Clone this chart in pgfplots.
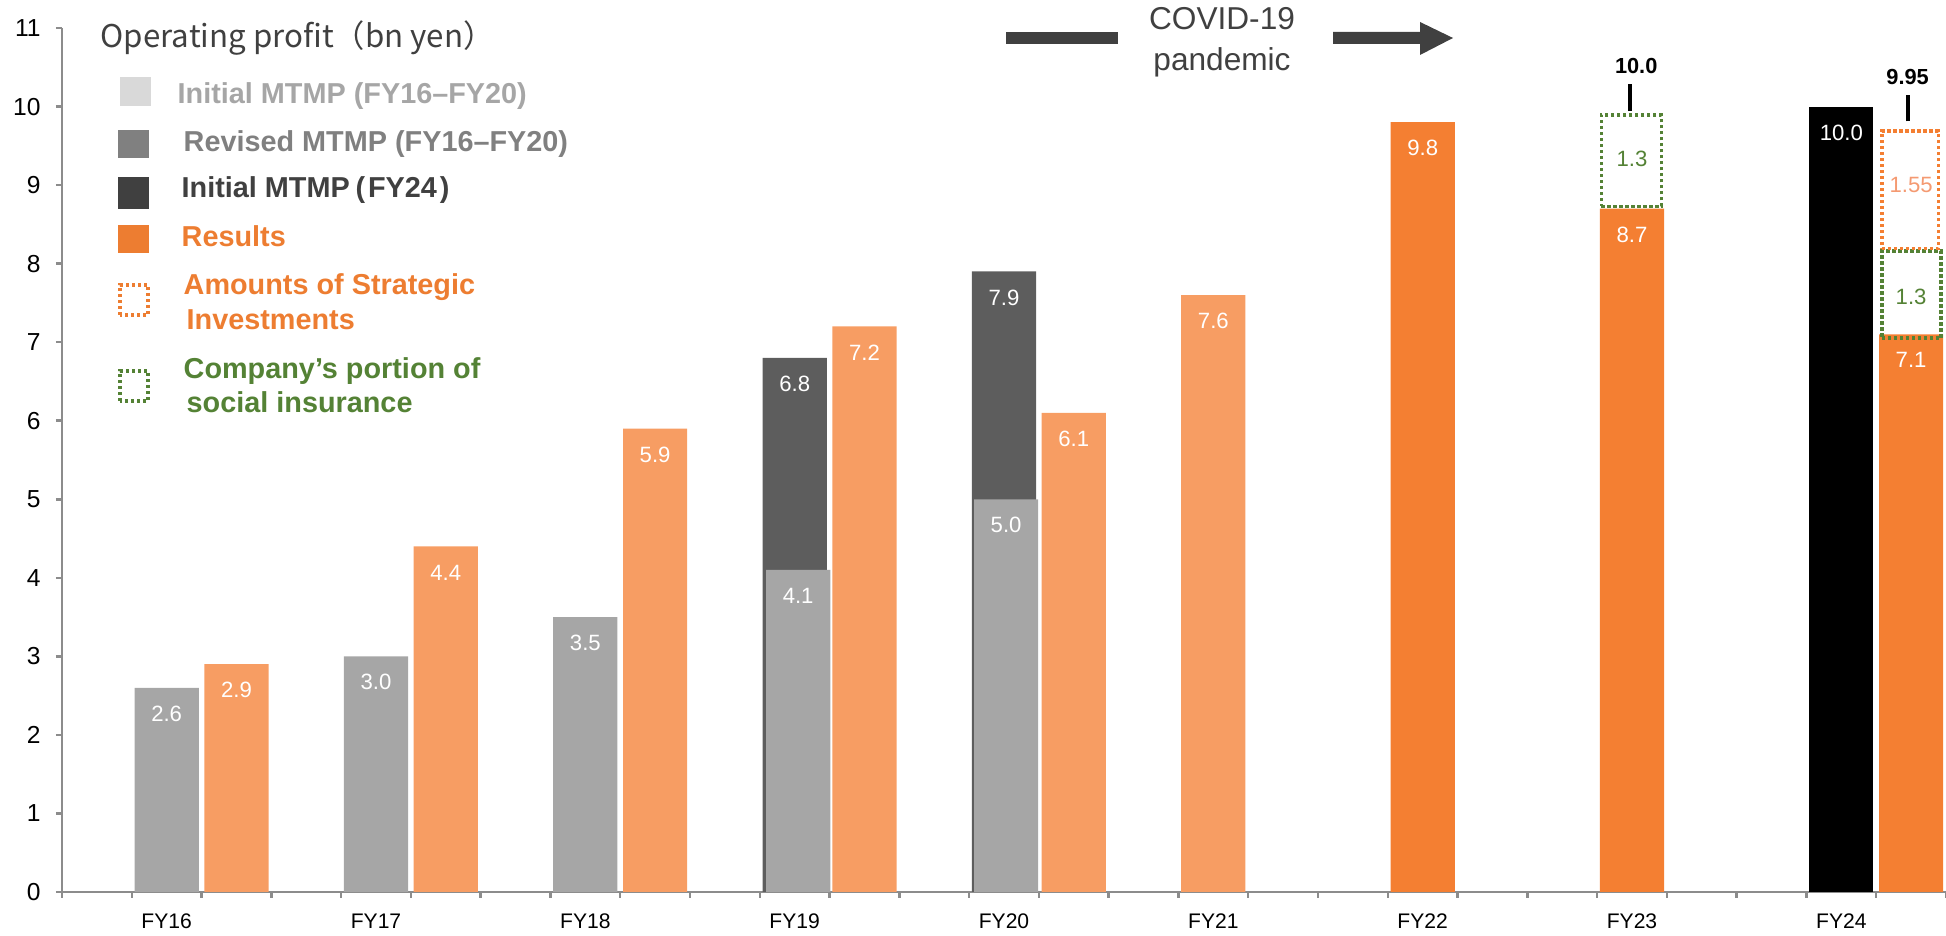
\documentclass[border=0pt]{standalone}
\usepackage{pgfplots}
\pgfplotsset{compat=1.18}
\usepackage{fontspec}
\setmainfont{Liberation Sans}
\newfontfamily\cjk{Noto Sans CJK JP}
\definecolor{lgray}{HTML}{A6A6A6}
\definecolor{dgray}{HTML}{5D5D5D}
\definecolor{lorange}{HTML}{F79D63}
\definecolor{dorange}{HTML}{F47F32}
\definecolor{axgray}{HTML}{8C8C8C}
\definecolor{txtgray}{HTML}{404040}
\definecolor{ggreen}{HTML}{548235}
\definecolor{legl}{HTML}{D9D9D9}
\definecolor{legm}{HTML}{808080}
\definecolor{legorange}{HTML}{ED7D31}
\definecolor{salmon}{HTML}{F49A72}
\newcommand{\legfont}{\bfseries\fontsize{8.2}{9.5}\selectfont}
\newcommand{\barfont}{\fontsize{6.3}{7.5}\selectfont}
\tikzset{boxstyle/.style={line width=0.35mm, dash pattern=on 0.33mm off 0.27mm}}
\pgfplotsset{
  barstyle/.style={ybar, bar width=0.92, bar shift=0pt, draw=none,
    nodes near coords={\pgfmathprintnumber[fixed,fixed zerofill,precision=1]{\pgfplotspointmeta}},
    every node near coord/.append style={text=white, anchor=center, yshift=-2.6mm, inner sep=0pt, font=\barfont}},
}
\begin{document}
\begin{tikzpicture}
\begin{axis}[
  scale only axis, width=188.4mm, height=86.4mm,
  xmin=0, xmax=27, ymin=0, ymax=11,
  axis x line*=bottom, axis y line*=left,
  axis line style={draw=axgray, line width=0.25mm, -},
  xtick={0,1,2,3,4,5,6,7,8,9,10,11,12,13,14,15,16,17,18,19,20,21,22,23,24,25,26,27},
  xticklabels={},
  ytick={0,1,2,3,4,5,6,7,8,9,10,11},
  tick align=outside, major tick length=0.6mm,
  tick style={draw=axgray, line width=0.25mm},
  extra x ticks={1.5,4.5,7.5,10.5,13.5,16.5,19.5,22.5,25.5},
  extra x tick labels={FY16,FY17,FY18,FY19,FY20,FY21,FY22,FY23,FY24},
  extra x tick style={tick style={draw=none}},
  xticklabel style={font=\fontsize{6}{7}\selectfont, yshift=-0.35mm},
  yticklabel style={font=\fontsize{7}{8}\selectfont, xshift=-0.3mm},
  /pgf/number format/assume math mode=true,
  clip=false,
]
% dark gray: Initial MTMP (FY19, FY20)
\addplot[barstyle, fill=dgray] coordinates {(10.5,6.8) (13.5,7.9)};
% gray: Revised MTMP
\addplot[barstyle, fill=lgray] coordinates {(1.5,2.6) (4.5,3.0) (7.5,3.5) (10.55,4.1) (13.53,5.0)};
% light orange results
\addplot[barstyle, fill=lorange] coordinates {(2.5,2.9) (5.5,4.4) (8.5,5.9) (11.5,7.2) (14.5,6.1) (16.5,7.6)};
% dark orange results
\addplot[barstyle, fill=dorange] coordinates {(19.5,9.8) (22.5,8.7) (26.5,7.1)};
% black: Initial MTMP FY24
\addplot[barstyle, fill=black] coordinates {(25.5,10.0)};
% dotted boxes
\addplot[boxstyle, draw=ggreen] coordinates {(22.06,8.73) (22.92,8.73) (22.92,9.89) (22.06,9.89) (22.06,8.73)};
\addplot[boxstyle, draw=ggreen] coordinates {(26.08,7.05) (26.93,7.05) (26.93,8.16) (26.08,8.16) (26.08,7.05)};
\addplot[boxstyle, draw=dorange] coordinates {(26.08,8.19) (26.89,8.19) (26.89,9.69) (26.08,9.69) (26.08,8.19)};
% annotation ticks
\addplot[black, line width=0.4mm] coordinates {(22.47,9.94) (22.47,10.29)};
\addplot[black, line width=0.4mm] coordinates {(26.45,9.81) (26.45,10.15)};
\node[inner sep=0pt, font=\bfseries\fontsize{6.2}{7}\selectfont] at (axis cs:22.56,10.52) {10.0};
\node[inner sep=0pt, font=\bfseries\fontsize{6.2}{7}\selectfont] at (axis cs:26.45,10.37) {9.95};
\node[inner sep=0pt, text=ggreen, font=\barfont] at (axis cs:22.5,9.33) {1.3};
\node[inner sep=0pt, text=ggreen, font=\barfont] at (axis cs:26.5,7.58) {1.3};
\node[inner sep=0pt, text=salmon, font=\barfont] at (axis cs:26.5,9.0) {1.55};
\end{axis}
\begin{scope}[x=1mm,y=1mm]
% title
\node[anchor=base west, inner sep=0pt, text=txtgray, font=\cjk\fontsize{8.9}{10}\selectfont] at (3.8,84.4) {Operating profit（bn yen）};
% legend swatches
\fill[legl] (5.8,78.6) rectangle (8.9,81.5);
\fill[legm] (5.6,73.4) rectangle (8.7,76.2);
\fill[txtgray] (5.6,68.3) rectangle (8.7,71.5);
\fill[legorange] (5.6,63.9) rectangle (8.7,66.7);
\draw[boxstyle, draw=legorange] (5.8,57.7) rectangle (8.6,60.7);
\draw[boxstyle, draw=ggreen] (5.8,49.1) rectangle (8.6,52.1);
% legend texts
\node[anchor=base west, inner sep=0pt, text=lgray, font=\legfont] at (11.5,78.8) {Initial MTMP (FY16–FY20)};
\node[anchor=base west, inner sep=0pt, text=legm, font=\legfont] at (12.1,74.0) {Revised MTMP (FY16–FY20)};
\node[anchor=base west, inner sep=0pt, text=txtgray, font=\legfont] at (11.9,69.4) {Initial MTMP\hspace{0.2em}(\hspace{0.1em}FY24\hspace{0.1em})};
\node[anchor=base west, inner sep=0pt, text=legorange, font=\legfont] at (11.9,64.5) {Results};
\node[anchor=base west, inner sep=0pt, text=legorange, font=\legfont] at (12.1,59.7) {Amounts of Strategic};
\node[anchor=base west, inner sep=0pt, text=legorange, font=\legfont] at (12.4,56.2) {Investments};
\node[anchor=base west, inner sep=0pt, text=ggreen, font=\legfont] at (12.1,51.3) {Company’s portion of};
\node[anchor=base west, inner sep=0pt, text=ggreen, font=\legfont] at (12.4,47.9) {social insurance};
% COVID annotation
\node[align=center, inner sep=0pt, text=txtgray, font=\fontsize{9}{11.6}\selectfont] at (116.0,85.0) {COVID-19\\pandemic};
\fill[txtgray] (94.4,84.8) rectangle (105.6,86.0);
\fill[txtgray] (127.1,84.8) -- (135.8,84.8) -- (135.8,83.7) -- (139.1,85.4) -- (135.8,87.0) -- (135.8,86.0) -- (127.1,86.0) -- cycle;
\pgfresetboundingbox
\path (-6.2,-4.4) rectangle (188.4,89.2);
\end{scope}
\end{tikzpicture}
\end{document}
